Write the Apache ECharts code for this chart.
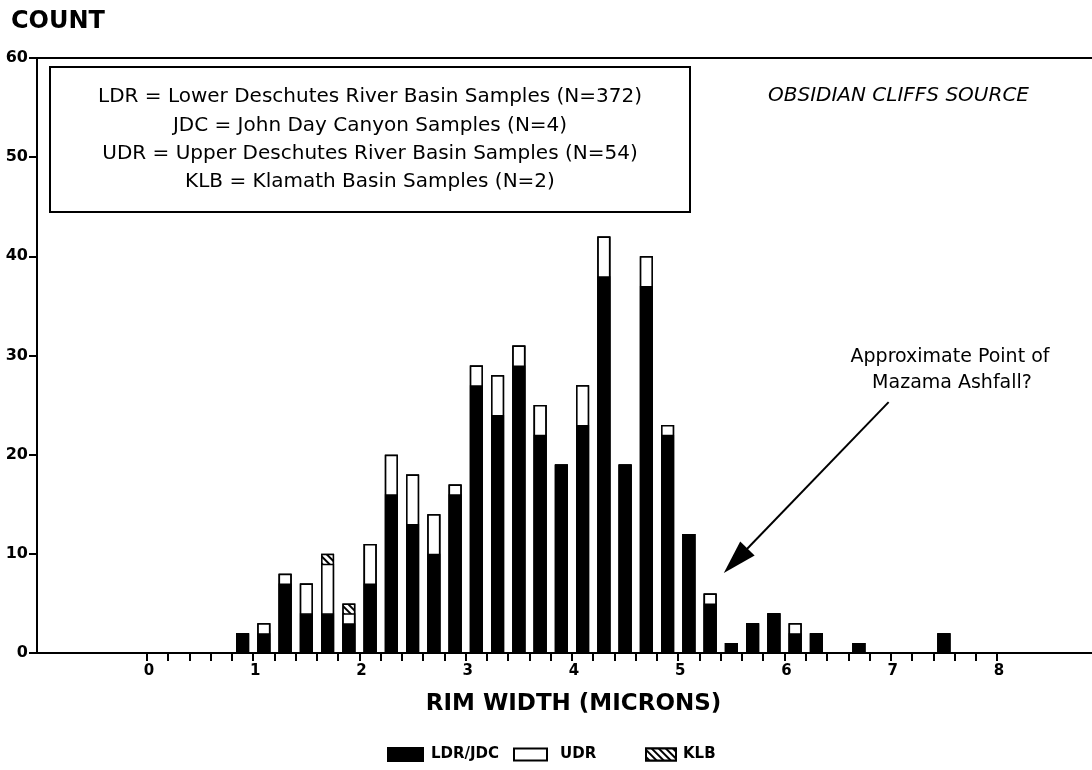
<!DOCTYPE html>
<html>
<head>
<meta charset="utf-8">
<title>Obsidian Cliffs Source - rim width</title>
<style>
  body { margin: 0; background: #fff; }
  #main { width: 1092px; height: 770px; }
</style>
</head>
<body>
<div id="main"></div>
<script src="https://cdn.jsdelivr.net/npm/echarts@6/dist/echarts.min.js"></script>
<script>
// bin centres (microns) and sample counts per group
var bins   = [0.9, 1.1, 1.3, 1.5, 1.7, 1.9, 2.1, 2.3, 2.5, 2.7, 2.9, 3.1, 3.3, 3.5, 3.7,
              3.9, 4.1, 4.3, 4.5, 4.7, 4.9, 5.1, 5.3, 5.5, 5.7, 5.9, 6.1, 6.3, 6.7, 7.5];
var ldrJdc = [2, 2, 7, 4, 4, 3, 7, 16, 13, 10, 16, 27, 24, 29, 22,
              19, 23, 38, 19, 37, 22, 12, 5, 1, 3, 4, 2, 2, 1, 2];
var udr    = [0, 1, 1, 3, 5, 1, 4, 4, 5, 4, 1, 2, 4, 2, 3,
              0, 4, 4, 0, 3, 1, 0, 1, 0, 0, 0, 1, 0, 0, 0];
var klb    = [0, 0, 0, 0, 1, 1, 0, 0, 0, 0, 0, 0, 0, 0, 0,
              0, 0, 0, 0, 0, 0, 0, 0, 0, 0, 0, 0, 0, 0, 0];

var xLabels = [0, 1, 2, 3, 4, 5, 6, 7, 8];
var yLabels = [0, 10, 20, 30, 40, 50, 60];

var boxLines = [
    'LDR = Lower Deschutes River Basin Samples (N=372)',
    'JDC = John Day Canyon Samples (N=4)',
    'UDR = Upper Deschutes River Basin Samples (N=54)',
    'KLB = Klamath Basin Samples (N=2)'
];

// arrow of the note, in axis units
var arrowFrom = [6.98, 25.3];
var arrowTo = [5.54, 9.3];

// minor ticks every 0.2 micron
var xTicks = [];
for (var t = 0; t <= 40; t++) xTicks.push(t / 5);

// stacking done by hand (value x axis)
var topLdr = ldrJdc.slice();
var topUdr = ldrJdc.map(function (v, i) { return v + udr[i]; });
var topKlb = topUdr.map(function (v, i) { return v + klb[i]; });

function pairs(tops) {
    return bins.map(function (b, i) { return [b, tops[i]]; });
}

var FONT = 'DejaVu Sans';
var black = '#000';

var barBase = {
    type: 'bar',
    barWidth: 13,
    barGap: '-100%',
    silent: true,
    animation: false
};

var option = {
    animation: false,
    backgroundColor: '#fff',
    title: {
        text: 'COUNT',
        left: 11,
        top: 10,
        padding: 0,
        textStyle: { fontFamily: FONT, fontWeight: 'bold', fontSize: 24, color: black }
    },
    grid: { left: 37, right: 0, top: 58, bottom: 117, containLabel: false },
    xAxis: [{
        type: 'value',
        min: -1.035,
        max: 8.894,
        name: 'RIM WIDTH (MICRONS)',
        nameLocation: 'middle',
        nameGap: 40,
        nameTextStyle: {
            fontFamily: FONT, fontWeight: 'bold', fontSize: 23, color: black,
            padding: [0, 0, 0, 18]
        },
        axisLine: { onZero: false, lineStyle: { color: black, width: 2 } },
        axisTick: { show: true, customValues: xTicks, length: 8, lineStyle: { color: black, width: 2 } },
        axisLabel: {
            customValues: xLabels,
            margin: 11,
            fontFamily: FONT, fontWeight: 'bold', fontSize: 15, color: black,
            padding: [0, 0, 0, 4]
        },
        splitLine: { show: false }
    }, {
        type: 'value',
        position: 'top',
        min: -1.035,
        max: 8.894,
        axisLine: { onZero: false, lineStyle: { color: black, width: 2 } },
        axisTick: { show: false },
        axisLabel: { show: false },
        splitLine: { show: false }
    }],
    yAxis: {
        type: 'value',
        min: 0,
        max: 60,
        interval: 10,
        axisLine: { show: true, onZero: false, lineStyle: { color: black, width: 2 } },
        axisTick: { show: true, length: 8, lineStyle: { color: black, width: 2 } },
        axisLabel: {
            margin: 9,
            fontFamily: FONT, fontWeight: 'bold', fontSize: 16, color: black,
            formatter: function (v) { return yLabels.indexOf(v) >= 0 ? String(v) : ''; }
        },
        splitLine: { show: false }
    },
    legend: [{
        data: ['LDR/JDC'], left: 387, top: 747, padding: 0,
        itemWidth: 35, itemHeight: 13, icon: 'rect', selectedMode: false,
        textStyle: { fontFamily: FONT, fontWeight: 'bold', fontSize: 15, color: black, padding: [0, 0, 0, 3] }
    }, {
        data: ['UDR'], left: 513, top: 747, padding: 0,
        itemWidth: 33, itemHeight: 12, icon: 'rect', selectedMode: false,
        textStyle: { fontFamily: FONT, fontWeight: 'bold', fontSize: 15, color: black, padding: [0, 0, 0, 8] }
    }, {
        data: ['KLB'], left: 645, top: 747, padding: 0,
        itemWidth: 30, itemHeight: 12, icon: 'rect', selectedMode: false,
        textStyle: { fontFamily: FONT, fontWeight: 'bold', fontSize: 15, color: black, padding: [0, 0, 0, 2] }
    }],
    series: [
        Object.assign({}, barBase, {
            name: 'KLB',
            data: pairs(topKlb),
            itemStyle: {
                color: '#fff', borderColor: black, borderWidth: 1.5,
                decal: {
                    symbol: 'rect', symbolSize: 1, color: black, backgroundColor: '#fff',
                    dashArrayX: [1, 0], dashArrayY: [2, 3], rotation: Math.PI / 4
                }
            }
        }),
        Object.assign({}, barBase, {
            name: 'UDR',
            data: pairs(topUdr),
            itemStyle: { color: '#fff', borderColor: black, borderWidth: 1.5 }
        }),
        Object.assign({}, barBase, {
            name: 'LDR/JDC',
            data: pairs(topLdr),
            itemStyle: { color: black, borderColor: black, borderWidth: 1.5 },
            markLine: {
                silent: true,
                animation: false,
                symbol: ['none', 'triangle'],
                symbolSize: [20, 34],
                label: { show: false },
                lineStyle: { color: black, width: 2, type: 'solid' },
                data: [[{ coord: arrowFrom }, { coord: arrowTo }]]
            }
        })
    ],
    graphic: [
        {
            type: 'rect', x: 50, y: 67,
            shape: { width: 640, height: 145 },
            style: { fill: '#fff', stroke: black, lineWidth: 2 }
        }
    ].concat(boxLines.map(function (line, i) {
        return {
            type: 'text', x: 370, y: 97 + i * 28.3,
            style: {
                text: line, fill: black, fontFamily: FONT, fontSize: 20,
                align: 'center', verticalAlign: 'middle'
            }
        };
    })).concat([
        {
            type: 'text', x: 768, y: 96,
            style: {
                text: 'OBSIDIAN CLIFFS SOURCE', fill: black, fontFamily: FONT,
                fontStyle: 'italic', fontSize: 20, align: 'left', verticalAlign: 'middle'
            }
        },
        {
            type: 'text', x: 950, y: 357,
            style: {
                text: 'Approximate Point of', fill: black, fontFamily: FONT, fontSize: 19,
                align: 'center', verticalAlign: 'middle'
            }
        },
        {
            type: 'text', x: 952, y: 383,
            style: {
                text: 'Mazama Ashfall?', fill: black, fontFamily: FONT, fontSize: 19,
                align: 'center', verticalAlign: 'middle'
            }
        }
    ])
};

var myChart = echarts.init(document.getElementById('main'));
myChart.setOption(option);
</script>
</body>
</html>
